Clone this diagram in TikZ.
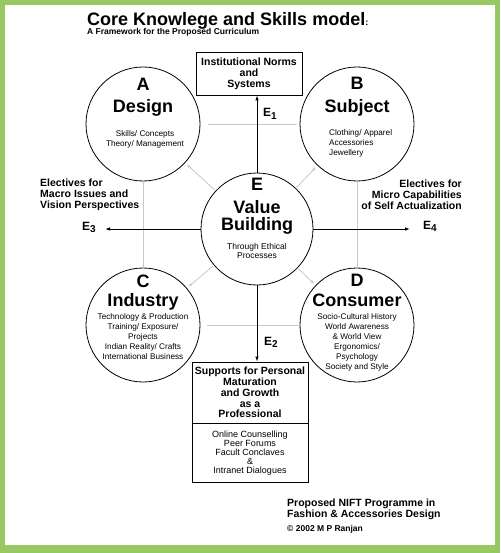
\documentclass[tikz,border=0pt]{standalone}
\usepackage{fontspec}
\setmainfont{Liberation Sans}
\usetikzlibrary{arrows.meta}

\definecolor{framegreen}{RGB}{150,200,100}
\definecolor{linkgray}{RGB}{200,200,200}

\newcommand{\elabel}[1]{E\raisebox{-2.5pt}{\fontsize{10}{10}\selectfont #1}}

\tikzset{
	hub/.style = {circle, draw, line width = 0.8pt, minimum size = 114pt, inner sep = 0pt},
	letter/.style = {font = \bfseries\fontsize{18}{18}\selectfont, inner sep = 0pt, anchor = base},
	note/.style = {font = \fontsize{8.2}{10}\selectfont, align = center, inner sep = 0pt},
	frame/.style = {draw, line width = 0.8pt, minimum width = 106pt, minimum height = 43pt, align = center, inner sep = 0pt, font = \bfseries\fontsize{10.5}{11}\selectfont},
	elective/.style = {font = \bfseries\fontsize{10.5}{11}\selectfont, inner sep = 0pt},
	branchlabel/.style = {font = \bfseries\fontsize{12}{12}\selectfont, inner sep = 0pt, anchor = base west},
	credit/.style = {font = \bfseries\fontsize{10.5}{10.5}\selectfont, inner sep = 0pt, anchor = base west},
	branch/.style = {-{Latex[length = 5pt, width = 3.5pt]}, line width = 0.9pt},
	link/.style = {linkgray, line width = 0.8pt},
	linkarr/.style = {link, -{Latex[length = 4pt, width = 3pt]}, shorten <= 1pt, shorten >= 2pt}
}

\begin{document}
\begin{tikzpicture}[x = 1pt, y = -1pt]
	% frame
	\fill[framegreen] (0,0) rectangle (500,553);
	\fill[white] (5,5) rectangle (495,545);
	\useasboundingbox (0,0) rectangle (500,553);
	
	% title
	\node[anchor = base west, inner sep = 0pt, font = \bfseries\fontsize{18}{18}\selectfont] (title) at (87,25.5) {Core Knowlege and Skills model{\fontsize{9}{9}\selectfont:}};
	\node[anchor = base west, inner sep = 0pt, font = \bfseries\fontsize{8.5}{8.5}\selectfont] (subtitle) at (87,35) {A Framework for the Proposed Curriculum};
	
	% circles
	\node[hub] (A) at (143,124) {};
	\node[hub] (B) at (357,124) {};
	\node[hub, minimum size = 112pt] (E) at (257,229) {};
	\node[hub] (C) at (143,325) {};
	\node[hub] (D) at (357,325) {};
	
	% grey links
	\draw[link] (A) -- (C);
	\draw[link] (B) -- (D);
	\draw[link, shorten <= 8pt, shorten >= 3pt] (A) -- (B);
	\draw[link, shorten <= 7pt] (C) -- (D);
	\foreach \leaf in {A, B, C, D} {
		\draw[linkarr] (E) -- (\leaf);
	}
	
	% circle texts
	\node[letter] (Aletter) at (143,91) {A};
	\node[letter] (Aname) at (143,113) {Design};
	\node[note] (Anote) at (145,139) {Skills/ Concepts\\Theory/ Management};
	
	\node[letter] (Bletter) at (357,90) {B};
	\node[letter] (Bname) at (357,113) {Subject};
	\node[note, align = left, anchor = west] (Bnote) at (329,143) {Clothing/ Apparel\\Accessories\\Jewellery};
	
	\node[letter] (Eletter) at (257,191) {E};
	\node[letter] (Ename) at (257,213) {Value};
	\node[letter] (Ename2) at (257,230) {Building};
	\node[note, font = \fontsize{8.5}{9.5}\selectfont] (Enote) at (257,251) {Through Ethical\\Processes};
	
	\node[letter] (Cletter) at (143,287) {C};
	\node[letter] (Cname) at (143,306) {Industry};
	\node[note] (Cnote) at (143,337) {Technology \& Production\\Training/ Exposure/\\Projects\\Indian Reality/ Crafts\\International Business};
	
	\node[letter] (Dletter) at (357,286) {D};
	\node[letter] (Dname) at (357,306) {Consumer};
	\node[note] (Dnote) at (357,342) {Socio-Cultural History\\World Awareness\\\& World View\\Ergonomics/\\Psychology\\Society and Style};
	
	% boxes
	\node[frame] (norms) at (249,73.5) {Institutional Norms\\and\\Systems};
	\node[frame, minimum width = 116pt, minimum height = 61pt, font = \bfseries\fontsize{10.5}{10.75}\selectfont] (support) at (250,392.5) {Supports for Personal\\Maturation\\and Growth\\as a\\Professional};
	\node[frame, minimum width = 116pt, minimum height = 59pt, anchor = north, font = \fontsize{9}{9}\selectfont] (forums) at (support.south) {Online Counselling\\Peer Forums\\Facult Conclaves\\\&\\Intranet Dialogues};
	
	% branches
	\coordinate (e3tip) at (105,229);
	\coordinate (e4tip) at (410,229);
	\draw[branch] (E.north) -- (E.north |- norms.south);
	\draw[branch] (E.south) -- (E.south |- support.north);
	\draw[branch] (E.west) -- (e3tip);
	\draw[branch] (E.east) -- (e4tip);
	
	\node[branchlabel] (e1) at (263,117) {\elabel{1}};
	\node[branchlabel] (e2) at (264,345) {\elabel{2}};
	\node[branchlabel] (e3) at (82,230) {\elabel{3}};
	\node[branchlabel] (e4) at (423,229) {\elabel{4}};
	
	% electives
	\node[elective, anchor = west, align = left] (macro) at (40,195) {Electives for\\Macro Issues and\\Vision Perspectives};
	\node[elective, anchor = east, align = right] (micro) at (462,195) {Electives for\\Micro Capabilities\\of Self Actualization};
	
	% credits
	\node[credit] (prog) at (287,506) {Proposed NIFT Programme in};
	\node[credit] (prog2) at (287,517.5) {Fashion \& Accessories Design};
	\node[credit, font = \bfseries\fontsize{8.5}{8.5}\selectfont] (copy) at (287,531.5) {\textcopyright{} 2002 M P Ranjan};
\end{tikzpicture}
\end{document}
